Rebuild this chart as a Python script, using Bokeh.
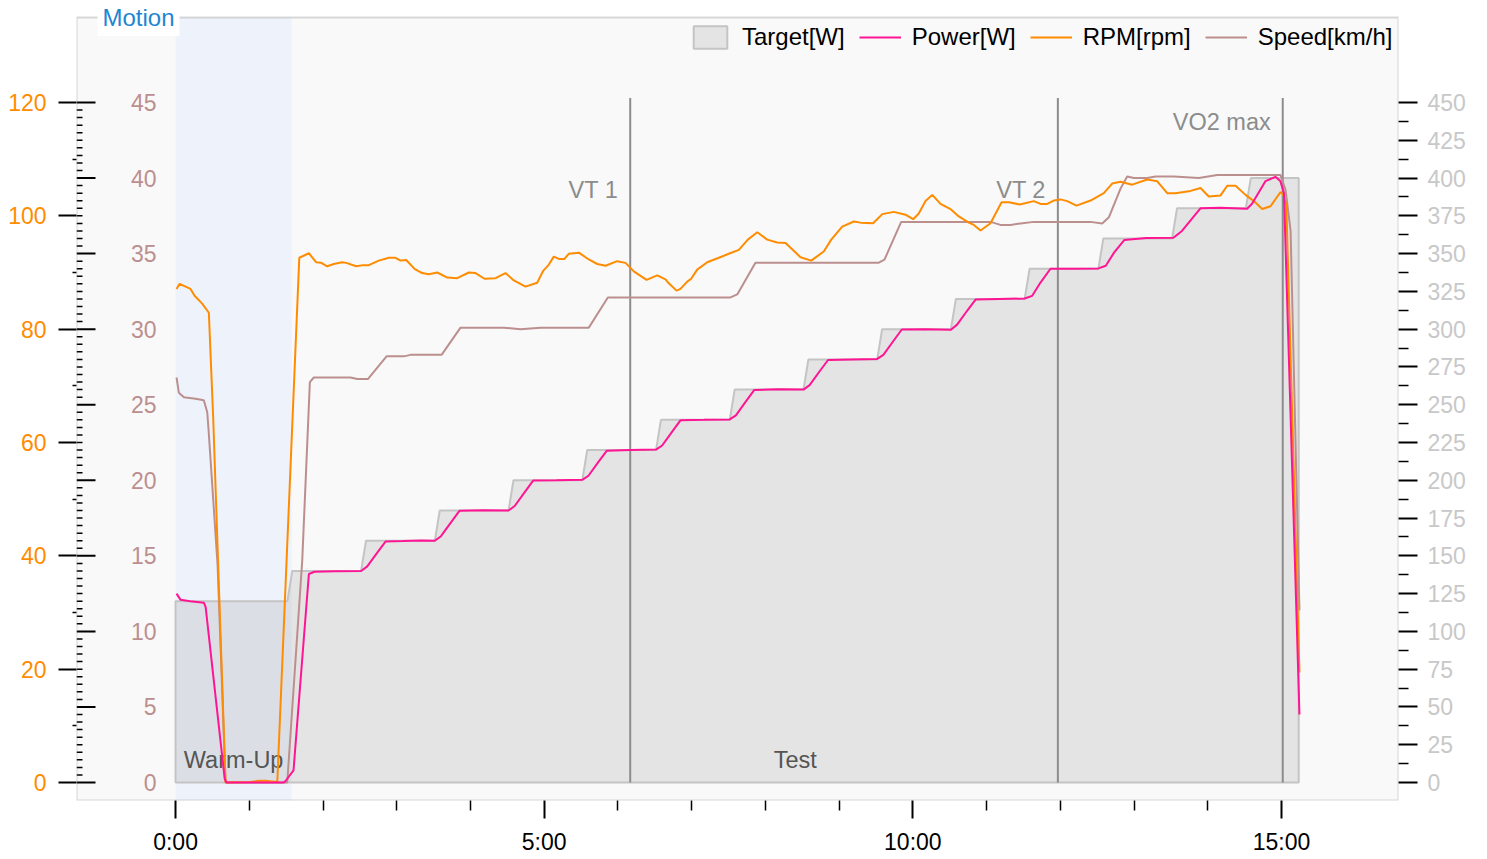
from bokeh.plotting import figure
from bokeh.models import (Range1d, LinearAxis, FixedTicker, Legend, LegendItem,
                          Label, BoxAnnotation)
from bokeh.core.properties import value
from bokeh.embed import file_html
from bokeh.resources import INLINE

# ---------------- data ----------------
# time in seconds
target_time = [0, 91, 95, 151, 155, 211, 215, 271, 275, 331, 335, 391, 395, 451, 455,
               511, 515, 571, 575, 631, 635, 691, 695, 751, 755, 811, 815, 871, 875, 914]
target_watts = [120, 120, 140, 140, 160, 160, 180, 180, 200, 200, 220, 220, 240, 240, 260,
                260, 280, 280, 300, 300, 320, 320, 340, 340, 360, 360, 380, 380, 400, 400]

power_time = [0.8, 4, 12, 23, 24.5, 40, 41.5, 88, 89.5, 96, 108.5, 113, 130, 151, 156, 164,
              171, 185, 200, 211, 216, 224, 231, 250, 271, 276, 284, 291, 310, 331, 336, 344,
              351, 370, 391, 396, 404, 411, 430, 451, 456, 464, 471, 490, 511, 516, 524, 531,
              550, 571, 576, 584, 591, 610, 631, 636, 644, 651, 670, 691, 697, 704, 712, 730,
              751, 757, 764, 772, 790, 812, 819, 827, 834, 850, 872, 876, 887, 895, 899, 902,
              914.6]
power_watts = [125, 121, 120, 119, 116, 2.4, 0, 0, 1, 8, 138, 139.5, 139.8, 140, 143, 152,
               159.5, 159.8, 160.2, 160, 163, 172, 179.8, 180.2, 180, 183, 192, 199.8, 200, 200.3, 203, 212,
               219.6, 220, 220.3, 223, 232, 239.8, 240, 240.3, 243, 252, 259.8, 260.2, 260, 263, 272, 279.6,
               280, 280.3, 283, 292, 299.8, 300, 299.6, 303, 312, 319.6, 320, 320.3, 322, 331, 340, 340,
               340.2, 342, 351, 359, 360.3, 360.5, 365, 373, 380, 380.4, 379.7, 383, 398, 400.8, 398, 390,
               45]

rpm_time = [0.8, 3.3, 12.2, 15.5, 21.7, 27.1, 30.7, 40.7, 61, 67.5, 73.2, 77.3, 82.8, 100.7,
            108.5, 114.5, 118.6, 123.4, 128.8, 135.6, 138.9, 147.0, 152.7, 157.3, 165.4, 173.6,
            179.0, 183.1, 187.7, 194.7, 200.7, 206.1, 213.0, 221.1, 229.2, 238.7, 244.1, 251.4,
            260.4, 268.5, 275.3, 284.8, 294.3, 299.2, 303.8, 307.8, 311.9, 316.5, 320.0, 328.2,
            336.3, 343.2, 349.9, 359.4, 366.2, 372.9, 383.3, 392.0, 398.7, 401.4, 407.7, 410.9,
            416.4, 419.6, 424.5, 432.7, 442.1, 450.2, 458.4, 465.7, 473.4, 481.5, 489.6, 496.4,
            508.6, 517.3, 527.5, 533.6, 542.5, 552.0, 557.4, 567.7, 575.1, 584.5, 594.0, 600.3,
            604.8, 610.3, 615.8, 622.5, 630.6, 637.4, 645.5, 649.6, 655.1, 663.2, 672.2, 678.1,
            687.0, 698.4, 703.9, 709.3, 714.7, 720.2, 725.6, 733.2, 744.6, 755.4, 762.2, 769.0,
            778.5, 790.7, 798.9, 807.0, 813.7, 826.0, 834.1, 840.8, 850.4, 855.8, 862.6, 870.7,
            877.5, 884.3, 891.1, 899.2, 901.4, 903.9, 914.6]
rpm_values = [87.1, 88.0, 87.1, 85.9, 84.5, 82.9, 64.0, 0, 0.1, 0.3, 0.3, 0.2, 0.1, 92.6,
              93.4, 91.8, 91.7, 91.1, 91.5, 91.8, 91.7, 91.1, 91.3, 91.3, 92.1, 92.6,
              92.6, 92.1, 92.2, 90.6, 89.9, 89.7, 90.0, 89.1, 89.0, 90.0, 89.9, 88.9,
              89.0, 89.9, 88.6, 87.5, 88.2, 90.3, 91.4, 92.8, 92.4, 92.4, 93.3, 93.5,
              92.3, 91.5, 91.2, 92.0, 91.7, 90.2, 88.7, 89.5, 88.8, 88.1, 86.8, 87.1,
              88.4, 88.9, 90.5, 91.8, 92.6, 93.3, 94.0, 95.8, 97.1, 95.8, 95.3, 95.2,
              92.7, 92.1, 93.7, 95.8, 98.1, 99.0, 98.8, 98.7, 100.3, 100.7, 100.2, 99.4,
              100.4, 102.6, 103.7, 102.1, 101.2, 99.9, 98.8, 98.4, 97.4, 98.7, 102.4, 102.4,
              102.0, 102.6, 102.1, 102.1, 102.7, 102.9, 102.6, 101.8, 102.7, 104.0, 105.7, 106.0,
              105.5, 106.4, 106.1, 104.0, 104.0, 104.4, 104.9, 103.4, 103.6, 105.3, 105.3, 103.7,
              102.6, 101.2, 101.7, 104.2, 103.7, 102.0, 19.4]

speed_time = [0.8, 2.7, 6.8, 16.3, 23.0, 25.8, 26.9, 34.2, 40.7, 65.1, 90.9, 103.1, 108.0,
              109.3, 112.5, 142.4, 147.9, 156.5, 171.7, 185.8, 191.2, 216.5, 231.9, 267.2,
              280.7, 297.0, 336.3, 351.8, 451.6, 457.1, 471.9, 572.3, 576.9, 590.5, 663.2,
              671.3, 679.5, 687.6, 698.4, 744.6, 754.1, 759.5, 769.0, 774.4, 779.9, 790.7,
              797.4, 812.4, 832.7, 847.7, 899.2, 903.3, 907.4, 914.6]
speed_kmh = [26.8, 25.8, 25.5, 25.4, 25.3, 24.5, 23.3, 14.4, 0, 0, 0, 14.7, 24.0,
             26.5, 26.8, 26.8, 26.7, 26.7, 28.2, 28.2, 28.3, 28.3, 30.1, 30.1,
             30.0, 30.1, 30.1, 32.1, 32.1, 32.3, 34.4, 34.4, 34.6, 37.1, 37.1,
             36.9, 36.9, 37.0, 37.1, 37.1, 37.0, 37.4, 39.3, 40.1, 40.0, 40.0,
             40.1, 40.1, 40.0, 40.2, 40.2, 39.2, 36.5, 11.4]

marker_names = ["VT 1", "VT 2", "VO2 max"]
marker_times = [370, 718, 901]

phase_names = ["Warm-Up", "Test"]
phase_start = [0, 94.5]
phase_end = [94.5, 914]

x_tick_values = [0, 300, 600, 900]
x_tick_labels = ["0:00", "5:00", "10:00", "15:00"]
x_minor_values = [60, 120, 180, 240, 360, 420, 480, 540, 660, 720, 780, 840]

power_ticks = [0, 25, 50, 75, 100, 125, 150, 175, 200, 225, 250, 275, 300, 325, 350, 375, 400, 425, 450]
rpm_ticks = [0, 20, 40, 60, 80, 100, 120]
rpm_minor = [10, 30, 50, 70, 90, 110]
speed_ticks = [0, 5, 10, 15, 20, 25, 30, 35, 40, 45]

series_names = ["Target[W]", "Power[W]", "RPM[rpm]", "Speed[km/h]"]
chart_title = "Motion"

# ---------------- styling / layout ----------------
FONT = "Liberation Sans"
PX_PER_W = 680.0 / 450.0
W_LO = -18.0 / PX_PER_W          # bottom of frame (screen y=800, zero at y=782)
W_HI = 765.0 / PX_PER_W          # visible top border (screen y=17)
W_TOP = 782.0 / PX_PER_W         # actual frame top (screen y=0)
RPM_PER_W = 120.0 / 450.0
KMH_PER_W = 45.0 / 450.0
X_LO, X_HI = -80.6, 995.2

C_POWER = "#ff1493"
C_RPM = "#ff8c00"
C_SPEED = "#bc8f8f"

WIDTH, HEIGHT = 1485, 858
p = figure(width=WIDTH, height=HEIGHT, output_backend="svg", toolbar_location=None,
           x_range=Range1d(X_LO, X_HI), y_range=Range1d(W_LO, W_TOP),
           y_axis_location="right",
           min_border_left=76, min_border_right=WIDTH - 1398, min_border_top=0,
           min_border_bottom=HEIGHT - 800)
p.extra_y_ranges = {"rpm": Range1d(W_LO * RPM_PER_W, W_TOP * RPM_PER_W),
                    "speed": Range1d(W_LO * KMH_PER_W, W_TOP * KMH_PER_W)}
p.background_fill_color = "white"
p.border_fill_color = "white"
p.outline_line_color = None
p.xgrid.visible = False
p.ygrid.visible = False

# visible chart background
p.add_layout(BoxAnnotation(top=W_HI, fill_color="#f9f9f9", fill_alpha=1.0,
                           line_color=None, level="underlay"))
# warm-up band
p.add_layout(BoxAnnotation(left=phase_start[0], right=phase_end[0], top=W_HI,
                           fill_color="#eef3fb", fill_alpha=1.0, line_color=None,
                           level="underlay"))

# target area
area_x = [target_time[0]] + target_time + [target_time[-1]]
area_y = [0] + target_watts + [0]
r_target = p.patch(area_x, area_y, fill_color="#808080", fill_alpha=0.175,
                   line_color="#c4c4c4", line_width=2)

# marker lines
p.segment(x0=marker_times, y0=[0] * len(marker_times), x1=marker_times,
          y1=[453] * len(marker_times), line_color="#8c8c8c", line_width=2)
p.text(x=marker_times, y=[392, 392, 437], text=marker_names, x_offset=-12,
       text_align="right", text_baseline="middle", text_color="#8c8c8c",
       text_font=value(FONT), text_font_size="23.5px")

# phase labels
p.text(x=[(s + e) / 2 for s, e in zip(phase_start, phase_end)], y=[15] * len(phase_names),
       text=phase_names, text_align="center", text_baseline="middle", text_color="#555555",
       text_font=value(FONT), text_font_size="23.5px")

# series lines
r_speed = p.line(speed_time, speed_kmh, y_range_name="speed", line_color=C_SPEED, line_width=2)
r_rpm = p.line(rpm_time, rpm_values, y_range_name="rpm", line_color=C_RPM, line_width=2)
r_power = p.line(power_time, power_watts, line_color=C_POWER, line_width=2)

# speed axis drawn inside frame
speed_minor = [i * 0.5 for i in range(0, 91) if i % 10 != 0]
p.ray(x=[X_LO] * len(speed_ticks), y=speed_ticks, length=19, angle=0, length_units="screen",
      y_range_name="speed", line_color="black", line_width=2)
p.ray(x=[X_LO] * len(speed_minor), y=speed_minor, length=6, angle=0, length_units="screen",
      y_range_name="speed", line_color="black", line_width=1.5)
p.text(x=[X_LO] * len(speed_ticks), y=speed_ticks, text=[str(v) for v in speed_ticks],
       x_offset=80, y_range_name="speed", text_align="right", text_baseline="middle",
       text_color=C_SPEED, text_font=value(FONT), text_font_size="23px")

# power axis (right)
ax_p = p.yaxis[0]
ax_p.ticker = FixedTicker(ticks=power_ticks,
                          minor_ticks=[t + 12.5 for t in power_ticks[:-1]])
# x axis
ax_x = p.xaxis[0]
ax_x.ticker = FixedTicker(ticks=x_tick_values, minor_ticks=x_minor_values)
ax_x.major_label_overrides = {v: l for v, l in zip(x_tick_values, x_tick_labels)}

# rpm axis (left)
ax_r = LinearAxis(y_range_name="rpm", ticker=FixedTicker(ticks=rpm_ticks, minor_ticks=rpm_minor))
p.add_layout(ax_r, "left")

for ax, tick_out, minor_out, col, so in [(ax_p, 19, 10, "#c8c8c8", 10),
                                         (ax_x, 18, 10, "black", 10),
                                         (ax_r, 18, 4, C_RPM, 12)]:
    ax.axis_line_color = None
    ax.major_tick_in = 0
    ax.major_tick_out = tick_out
    ax.minor_tick_in = 0
    ax.minor_tick_out = minor_out
    ax.major_tick_line_color = "black"
    ax.minor_tick_line_color = "black"
    ax.major_tick_line_width = 2
    ax.minor_tick_line_width = 1.5
    ax.major_label_text_color = col
    ax.major_label_text_font = FONT
    ax.major_label_text_font_size = "23px"
    ax.major_label_standoff = so

# visible frame border
p.add_layout(BoxAnnotation(top=W_HI, fill_color=None, line_color="#808080", line_width=2))

# legend (bottom-left corner given in screen px from frame bottom-left)
legend = Legend(items=[LegendItem(label=series_names[0], renderers=[r_target]),
                       LegendItem(label=series_names[1], renderers=[r_power]),
                       LegendItem(label=series_names[2], renderers=[r_rpm]),
                       LegendItem(label=series_names[3], renderers=[r_speed])],
                orientation="horizontal", location=(613, 749),
                background_fill_alpha=0, border_line_color=None,
                label_text_font=FONT, label_text_font_size="24px", label_text_color="black",
                glyph_width=42, glyph_height=28, label_standoff=11, spacing=14,
                padding=4, margin=0)
p.add_layout(legend)

# title tag sitting on the top border
p.add_layout(Label(x=-63.5, y=W_HI, text=chart_title, text_color="#1f86d1", text_font=FONT,
                   text_font_size="24px", text_baseline="middle", text_align="left",
                   background_fill_color="white", padding=5))

open("out.html", "w").write(file_html(p, INLINE))
